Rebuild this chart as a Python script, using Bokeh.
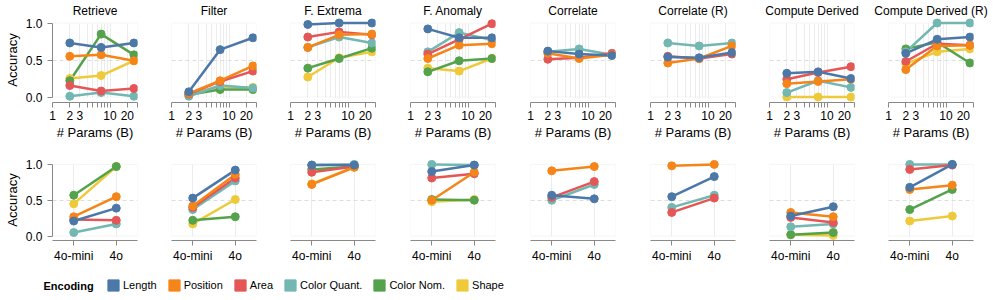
from bokeh.plotting import figure
from bokeh.models import (Range1d, FixedTicker, BoxAnnotation, Legend, LegendItem,
                          Label, PrintfTickFormatter)
from bokeh.layouts import row, column
from bokeh.embed import file_html
from bokeh.resources import INLINE

# ---------------- data ----------------
TASKS = ["Retrieve", "Filter", "F. Extrema", "F. Anomaly", "Correlate",
         "Correlate (R)", "Compute Derived", "Compute Derived (R)"]
ENCODINGS = ["Length", "Position", "Area", "Color Quant.", "Color Nom.", "Shape"]
COLORS = ["#4c78a8", "#f58518", "#e45756", "#72b7b2", "#54a24b", "#eeca3b"]

PARAM_SIZES = [2, 7, 26]          # model size in billions of parameters
LOG_TICKS = [1, 2, 3, 4, 5, 6, 7, 8, 9, 10, 20, 30]
LOG_TICK_LABELS = ["1", "2", "3", "", "", "", "", "", "", "10", "20", ""]
Y_TICKS = [0, 0.5, 1]
MODELS = ["4o-mini", "4o"]

# accuracy vs parameter count (one list per task, None = not tested)
PARAMS_LENGTH = [[0.73, 0.67, 0.73], [0.07, 0.64, 0.80], [0.98, 1.0, 1.0], [0.92, 0.80, 0.80],
                 [0.62, 0.58, 0.56], [0.54, 0.53, 0.60], [0.32, 0.34, 0.25], [0.59, 0.78, 0.81]]
PARAMS_POSITION = [[0.55, 0.57, 0.49], [0.05, 0.22, 0.42], [0.67, 0.84, 0.85], [0.52, 0.70, 0.72],
                   [0.59, 0.52, 0.57], [0.46, 0.52, 0.69], [0.18, 0.21, 0.24], [0.37, 0.69, 0.70]]
PARAMS_AREA = [[0.155, 0.08, 0.115], [0.04, 0.21, 0.35], [0.81, 0.88, 0.84], [0.58, 0.78, 0.99],
               [0.51, 0.53, 0.59], [0.55, 0.52, 0.58], [0.24, 0.33, 0.41], [0.48, 0.72, 0.70]]
PARAMS_COLOR_QUANT = [[0.01, 0.06, 0.01], [0.01, 0.155, 0.12], [0.67, 0.81, 0.73], [0.61, 0.87, 0.77],
                      [0.61, 0.65, 0.57], [0.73, 0.69, 0.73], [0.06, 0.22, 0.13], [0.61, 1.0, 1.0]]
PARAMS_COLOR_NOM = [[0.22, 0.85, 0.57], [0.03, 0.10, 0.10], [0.39, 0.52, 0.66], [0.34, 0.49, 0.52],
                    None, None, None, [0.65, 0.74, 0.46]]
PARAMS_SHAPE = [[0.25, 0.29, 0.49], [0.05, 0.14, 0.13], [0.27, 0.53, 0.61], [0.39, 0.35, 0.52],
                None, None, [0.0, 0.0, 0.0], [0.45, 0.61, 0.65]]

# accuracy for GPT-4o-mini / GPT-4o
GPT_LENGTH = [[0.21, 0.39], [0.53, 0.92], [0.99, 0.99], [0.90, 0.99],
              [0.57, 0.52], [0.55, 0.83], [0.28, 0.41], [0.68, 1.0]]
GPT_POSITION = [[0.27, 0.55], [0.42, 0.86], [0.72, 0.96], [0.50, 0.89],
                [0.91, 0.97], [0.98, 1.0], [0.33, 0.27], [0.65, 0.71]]
GPT_AREA = [[0.23, 0.22], [0.40, 0.81], [0.89, 0.97], [0.81, 0.87],
            [0.54, 0.76], [0.33, 0.53], [0.26, 0.19], [0.93, 0.99]]
GPT_COLOR_QUANT = [[0.05, 0.17], [0.37, 0.77], [0.99, 1.0], [1.0, 0.99],
                   [0.50, 0.72], [0.40, 0.57], [0.13, 0.17], [1.0, 1.0]]
GPT_COLOR_NOM = [[0.57, 0.97], [0.22, 0.27], [0.93, 0.97], [0.51, 0.50],
                 None, None, [0.02, 0.05], [0.37, 0.65]]
GPT_SHAPE = [[0.45, 0.97], [0.17, 0.51], [0.73, 0.96], [0.48, 0.51],
             None, None, [0.02, 0.01], [0.21, 0.28]]

PARAMS_SERIES = [PARAMS_LENGTH, PARAMS_POSITION, PARAMS_AREA,
                 PARAMS_COLOR_QUANT, PARAMS_COLOR_NOM, PARAMS_SHAPE]
GPT_SERIES = [GPT_LENGTH, GPT_POSITION, GPT_AREA, GPT_COLOR_QUANT, GPT_COLOR_NOM, GPT_SHAPE]

# ---------------- layout / style ----------------
FONT = "Liberation Sans"
FRAME_LEFTS = [52, 171, 290, 410, 530, 650, 769, 888]
FRAME_W = 85
TOTAL_W = 995
SIDE = 17

TOP_H, BOT_H, LEG_H = 145, 120, 27
NAN = float("nan")


def col_geometry(i):
    start = 0 if i == 0 else FRAME_LEFTS[i] - SIDE
    end = TOTAL_W if i == len(FRAME_LEFTS) - 1 else FRAME_LEFTS[i + 1] - SIDE
    left = FRAME_LEFTS[i] - start
    right = end - FRAME_LEFTS[i] - FRAME_W
    return end - start, left, right


def y_range_for(frame_top, frame_bottom, view_top, view_bottom):
    ppu = view_bottom - view_top
    return Range1d(-(frame_bottom - view_bottom) / ppu, 1 + (view_top - frame_top) / ppu)


def style_axis(ax):
    ax.axis_line_color = "#888888"
    ax.major_tick_line_color = "#888888"
    ax.minor_tick_line_color = None
    ax.major_tick_out = 5
    ax.major_tick_in = 0
    ax.major_label_text_font = FONT
    ax.major_label_text_font_size = "12px"
    ax.major_label_text_color = "#000000"
    ax.axis_label_text_font = FONT
    ax.axis_label_text_font_size = "13px"
    ax.axis_label_text_font_style = "normal"
    ax.axis_label_text_color = "#000000"


def make_panel(i, top_row):
    w, bl, br = col_geometry(i)
    if top_row:
        h, bt, bb = TOP_H, 17, 43
        yr = y_range_for(17, 102, 22.5, 96.5)
        xkw = dict(x_axis_type="log", x_range=Range1d(LOG_TICKS[0], LOG_TICKS[-1]))
    else:
        h, bt, bb = BOT_H, 14, 23
        yr = y_range_for(14, 97, 19, 92.5)
        xkw = dict(x_range=MODELS)
    p = figure(width=w, height=h, y_range=yr, min_border_left=bl, min_border_right=br,
               min_border_top=bt, min_border_bottom=bb, toolbar_location=None,
               output_backend="svg", y_axis_location="left" if i == 0 else None,
               title=TASKS[i] if top_row else None, **xkw)
    p.outline_line_color = None
    p.background_fill_color = "white"
    p.border_fill_color = "white"
    if top_row:
        p.title.align = "center"
        p.title.text_font = FONT
        p.title.text_font_size = "12px"
        p.title.text_font_style = "normal"
        p.title.text_color = "#000000"
        p.title.standoff = 0

    # view border
    p.add_layout(BoxAnnotation(bottom=0, top=1, fill_color=None, fill_alpha=0,
                               line_color="#dddddd", line_width=1, level="underlay"))
    # grids
    p.xgrid.grid_line_color = "#ececec"
    p.xgrid.cross_bounds = (0, 1)
    p.ygrid.ticker = FixedTicker(ticks=[0.5])
    p.ygrid.grid_line_color = "#dddddd"
    p.ygrid.grid_line_dash = "4 3"

    xa = p.xaxis[0]
    style_axis(xa)
    xa.major_label_standoff = 3
    if top_row:
        xa.ticker = FixedTicker(ticks=LOG_TICKS)
        p.xgrid.ticker = FixedTicker(ticks=LOG_TICKS)
        xa.major_label_overrides = dict(zip(LOG_TICKS, LOG_TICK_LABELS))
        xa.axis_label = "# Params (B)"
        xa.axis_label_standoff = 2
    if i == 0:
        ya = p.yaxis[0]
        style_axis(ya)
        ya.ticker = FixedTicker(ticks=Y_TICKS)
        ya.formatter = PrintfTickFormatter(format="%.1f")
        ya.bounds = (0, 1)
        ya.major_label_standoff = 5
        ya.axis_label = "Accuracy"
        ya.axis_label_standoff = 3

    xs = PARAM_SIZES if top_row else MODELS
    series = PARAMS_SERIES if top_row else GPT_SERIES
    order = list(range(len(ENCODINGS)))[::-1]
    for k in order:
        vals = series[k][i]
        if vals is not None:
            p.line(xs, vals, line_color=COLORS[k], line_width=2.5)
    for k in order:
        vals = series[k][i]
        if vals is not None:
            p.scatter(xs, vals, size=8, fill_color=COLORS[k], line_color=COLORS[k])
    return p


top = row(*[make_panel(i, True) for i in range(len(TASKS))])
bottom = row(*[make_panel(i, False) for i in range(len(TASKS))])

# legend strip
lf = figure(width=TOTAL_W, height=LEG_H, x_range=Range1d(0, TOTAL_W), y_range=Range1d(0, LEG_H),
            min_border=0, toolbar_location=None, output_backend="svg",
            x_axis_location=None, y_axis_location=None)
lf.grid.visible = False
lf.outline_line_color = None
items = []
for enc, c in zip(ENCODINGS, COLORS):
    # legend-only renderer: a single NaN row so nothing is drawn in the strip itself
    r = lf.quad(left=[NAN], right=[NAN], top=[NAN], bottom=[NAN], fill_color=c, line_color=c)
    items.append(LegendItem(label=enc, renderers=[r]))
legend = Legend(items=items, orientation="horizontal", location=(106, 0),
                glyph_width=14, glyph_height=14, label_standoff=3, spacing=10,
                padding=0, margin=0, border_line_color=None, background_fill_alpha=0,
                label_text_font=FONT, label_text_font_size="11px", label_height=14,
                label_width=0, label_text_color="#000000")
lf.add_layout(legend)
lf.add_layout(Label(x=43, y=7, text="Encoding", text_font=FONT, text_font_size="11px",
                    text_font_style="bold", text_baseline="middle", text_align="left",
                    text_color="#000000"))

root = column(top, bottom, lf)

with open("out.html", "w") as f:
    f.write(file_html(root, INLINE))
